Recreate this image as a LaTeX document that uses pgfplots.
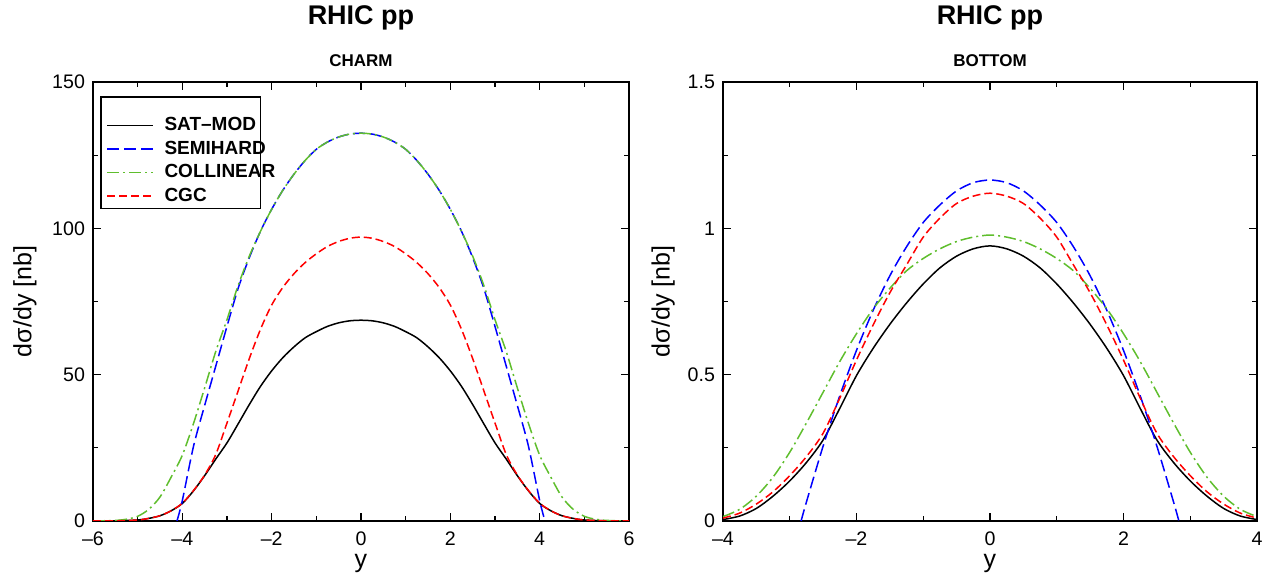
\documentclass[border=0pt]{standalone}
\usepackage{fontspec}
\setmainfont{Liberation Sans}
\usepackage{pgfplots}
\pgfplotsset{compat=1.18}

\definecolor{cgreen}{RGB}{95,190,45}

\pgfplotsset{
  rhic/.style={
    scale only axis,
    height=219.5pt,
    ymin=0,
    clip mode=individual,
    tick align=inside,
    major tick length=3.8pt,
    minor tick length=2.5pt,
    minor x tick num=1,
    minor y tick num=1,
    axis line style={line width=0.8pt},
    every tick/.style={black, line width=0.6pt},
    /pgf/number format/assume math mode=true,
    tick label style={font=\fontsize{9.8}{11}\selectfont},
    xticklabel style={yshift=-2pt},
    yticklabel style={xshift=-0.5pt},
    xlabel={y},
    ylabel={dσ/dy [nb]},
    label style={font=\fontsize{12.5}{14}\selectfont},
    xlabel style={at={(axis description cs:0.5,-0.096)}, anchor=center},
  },
}

\begin{document}
\begin{tikzpicture}

% ---------------- CHARM ----------------
\begin{axis}[rhic,
    width=268pt,
    xmin=-6, xmax=6,
    ymax=150,
    xtick={-6,-4,-2,0,2,4,6},
    xticklabels={–6,–4,–2,0,2,4,6},
    ytick={0,50,100,150},
    ylabel style={at={(axis description cs:-0.127,0.5)}, anchor=center},
    legend cell align=left,
    legend style={at={(axis description cs:0.0243,0.928)}, anchor=north west,
      draw=none, fill=none, inner sep=0pt, column sep=2.7pt, row sep=0pt,
      font=\bfseries\fontsize{9.5}{11}\selectfont,
      nodes={inner xsep=2.6pt, inner ysep=1.8pt}},
    legend image code/.code={\draw[#1] (0pt,0pt) -- (23pt,0pt);},
]
\addplot[black, solid, line width=0.75pt, smooth] coordinates {
 (-6,0) (-5.5,0.05) (-5,0.35) (-4.75,0.9) (-4.5,1.8) (-4.25,3.5) (-4,6)
 (-3.75,10.3) (-3.5,15.5) (-3.25,21.2) (-3,26.7) (-2.75,33.2) (-2.5,39.8)
 (-2.25,46) (-2,51.3) (-1.75,55.8) (-1.5,59.5) (-1.25,62.6) (-1,64.7)
 (-0.75,66.5) (-0.5,67.7) (-0.25,68.4) (0,68.6)
 (0.25,68.4) (0.5,67.7) (0.75,66.5) (1,64.7) (1.25,62.6) (1.5,59.5)
 (1.75,55.8) (2,51.3) (2.25,46) (2.5,39.8) (2.75,33.2) (3,26.7) (3.25,21.2)
 (3.5,15.5) (3.75,10.3) (4,6) (4.25,3.5) (4.5,1.8) (4.75,0.9) (5,0.35)
 (5.5,0.05) (6,0)
};
\addplot[blue, dash pattern=on 6pt off 2.5pt, line width=0.75pt, smooth] coordinates {
 (-4.12,0) (-4,7) (-3.75,25.5) (-3.5,39.5) (-3.25,53) (-3,66.5) (-2.75,79.5)
 (-2.5,90) (-2.25,99) (-2,106.5) (-1.75,113) (-1.5,118.5) (-1.25,123.2)
 (-1,127) (-0.75,129.5) (-0.5,131.2) (-0.25,132.2) (0,132.5)
 (0.25,132.2) (0.5,131.2) (0.75,129.5) (1,127) (1.25,123.2) (1.5,118.5)
 (1.75,113) (2,106.5) (2.25,99) (2.5,90) (2.75,79.5) (3,66.5) (3.25,53)
 (3.5,39.5) (3.75,25.5) (4,7) (4.12,0)
};
\addplot[cgreen, dash pattern=on 6pt off 2pt on 1pt off 2pt, line width=0.75pt, smooth] coordinates {
 (-6,0) (-5.5,0.2) (-5.25,0.6) (-5,1.6) (-4.75,4) (-4.5,8.2) (-4.25,15)
 (-4,22.5) (-3.75,33.3) (-3.5,45.5) (-3.25,58) (-3,68.8) (-2.75,80.5)
 (-2.5,90.5) (-2.25,99) (-2,106.5) (-1.75,113) (-1.5,118.5) (-1.25,123.2)
 (-1,127) (-0.75,129.5) (-0.5,131.2) (-0.25,132.2) (0,132.5)
 (0.25,132.2) (0.5,131.2) (0.75,129.5) (1,127) (1.25,123.2) (1.5,118.5)
 (1.75,113) (2,106.5) (2.25,99) (2.5,90.5) (2.75,80.5) (3,68.8) (3.25,58)
 (3.5,45.5) (3.75,33.3) (4,22.5) (4.25,15) (4.5,8.2) (4.75,4) (5,1.6)
 (5.25,0.6) (5.5,0.2) (6,0)
};
\addplot[red, dash pattern=on 4pt off 2pt, line width=0.75pt, smooth] coordinates {
 (-6,0) (-5.5,0.05) (-5,0.35) (-4.75,0.9) (-4.5,1.8) (-4.25,3.5) (-4,6.1)
 (-3.75,10.4) (-3.5,15.7) (-3.25,22.8) (-3,33.5) (-2.75,44.5) (-2.5,55.5)
 (-2.25,65.5) (-2,73.8) (-1.75,79.8) (-1.5,84.5) (-1.25,88.3) (-1,91.3)
 (-0.75,93.8) (-0.5,95.5) (-0.25,96.6) (0,97)
 (0.25,96.6) (0.5,95.5) (0.75,93.8) (1,91.3) (1.25,88.3) (1.5,84.5)
 (1.75,79.8) (2,73.8) (2.25,65.5) (2.5,55.5) (2.75,44.5) (3,33.5) (3.25,22.8)
 (3.5,15.7) (3.75,10.4) (4,6.1) (4.25,3.5) (4.5,1.8) (4.75,0.9) (5,0.35)
 (5.5,0.05) (6,0)
};
\legend{SAT–MOD,SEMIHARD,COLLINEAR,CGC}
\draw[line width=0.6pt] (axis description cs:0.015,0.966) rectangle (axis description cs:0.313,0.711);
\node[font=\bfseries\fontsize{13.5}{15}\selectfont] at (rel axis cs:0.5,1) [yshift=32pt] {RHIC pp};
\node[font=\bfseries\fontsize{8.5}{10}\selectfont] at (rel axis cs:0.5,1) [yshift=10.5pt] {CHARM};
\end{axis}

% ---------------- BOTTOM ----------------
\begin{axis}[rhic,
    at={(315pt,0pt)},
    width=267pt,
    xmin=-4, xmax=4,
    ymax=1.5,
    xtick={-4,-2,0,2,4},
    xticklabels={–4,–2,0,2,4},
    ytick={0,0.5,1,1.5},
    yticklabels={0,0.5,1,1.5},
    ylabel style={at={(axis description cs:-0.112,0.5)}, anchor=center},
]
\addplot[black, solid, line width=0.75pt, smooth] coordinates {
 (-4,0.005) (-3.75,0.017) (-3.5,0.043) (-3.25,0.085) (-3,0.137) (-2.75,0.2)
 (-2.5,0.277) (-2.25,0.385) (-2,0.497) (-1.75,0.59) (-1.5,0.672) (-1.25,0.745)
 (-1,0.81) (-0.75,0.865) (-0.5,0.905) (-0.25,0.93) (0,0.94)
 (0.25,0.93) (0.5,0.905) (0.75,0.865) (1,0.81) (1.25,0.745) (1.5,0.672)
 (1.75,0.59) (2,0.497) (2.25,0.385) (2.5,0.277) (2.75,0.2) (3,0.137)
 (3.25,0.085) (3.5,0.043) (3.75,0.017) (4,0.005)
};
\addplot[blue, dash pattern=on 6pt off 2.5pt, line width=0.75pt, smooth] coordinates {
 (-2.83,0) (-2.75,0.065) (-2.5,0.256) (-2.25,0.428) (-2,0.583) (-1.75,0.72)
 (-1.5,0.838) (-1.25,0.937) (-1,1.02) (-0.75,1.08) (-0.5,1.128) (-0.25,1.156)
 (0,1.165) (0.25,1.156) (0.5,1.128) (0.75,1.08) (1,1.02) (1.25,0.937)
 (1.5,0.838) (1.75,0.72) (2,0.583) (2.25,0.428) (2.5,0.256) (2.75,0.065)
 (2.83,0)
};
\addplot[cgreen, dash pattern=on 6pt off 2pt on 1pt off 2pt, line width=0.75pt, smooth] coordinates {
 (-4,0.015) (-3.75,0.04) (-3.5,0.085) (-3.25,0.15) (-3,0.235) (-2.75,0.335)
 (-2.5,0.44) (-2.25,0.545) (-2,0.64) (-1.75,0.725) (-1.5,0.795) (-1.25,0.855)
 (-1,0.897) (-0.75,0.93) (-0.5,0.955) (-0.25,0.97) (0,0.977)
 (0.25,0.97) (0.5,0.955) (0.75,0.93) (1,0.897) (1.25,0.855) (1.5,0.795)
 (1.75,0.725) (2,0.64) (2.25,0.545) (2.5,0.44) (2.75,0.335) (3,0.235)
 (3.25,0.15) (3.5,0.085) (3.75,0.04) (4,0.015)
};
\addplot[red, dash pattern=on 4pt off 2pt, line width=0.75pt, smooth] coordinates {
 (-4,0.01) (-3.75,0.027) (-3.5,0.058) (-3.25,0.1) (-3,0.155) (-2.75,0.22)
 (-2.5,0.3) (-2.25,0.42) (-2,0.55) (-1.75,0.67) (-1.5,0.78) (-1.25,0.875)
 (-1,0.97) (-0.75,1.035) (-0.5,1.085) (-0.25,1.11) (0,1.12)
 (0.25,1.11) (0.5,1.085) (0.75,1.035) (1,0.97) (1.25,0.875) (1.5,0.78)
 (1.75,0.67) (2,0.55) (2.25,0.42) (2.5,0.3) (2.75,0.22) (3,0.155)
 (3.25,0.1) (3.5,0.058) (3.75,0.027) (4,0.01)
};
\node[font=\bfseries\fontsize{13.5}{15}\selectfont] at (rel axis cs:0.5,1) [yshift=32pt] {RHIC pp};
\node[font=\bfseries\fontsize{8.5}{10}\selectfont] at (rel axis cs:0.5,1) [yshift=10.5pt] {BOTTOM};
\end{axis}

\pgfresetboundingbox
\path (-46.5pt,-28.5pt) rectangle (591.5pt,260.5pt);
\end{tikzpicture}
\end{document}
